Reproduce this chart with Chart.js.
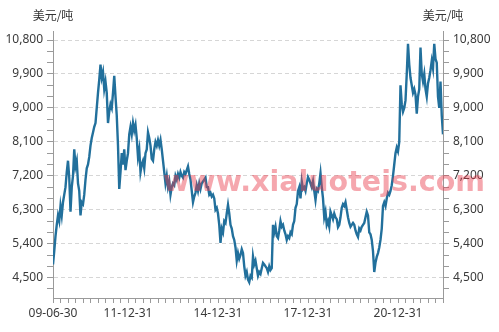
<!DOCTYPE html>
<html>
<head>
<meta charset="utf-8">
<script src="https://cdn.jsdelivr.net/npm/chart.js@4.4.1/dist/chart.umd.min.js"></script>
<style>
body{margin:0;background:#fff;}
</style>
</head>
<body>
<canvas id="copperChart" width="499" height="332"></canvas>
<script>
let unitLabel = '美元/吨';
let watermarkText = 'www.xialuotejs.com';

// x axis: one tick per quarter from 09-06-30, labels on a few of them
let xTickQuarters = [0, 10, 22, 34, 46];
let xTickLabels = ['09-06-30', '11-12-31', '14-12-31', '17-12-31', '20-12-31'];
let lastQuarter = 52;

// y axis
let yTickValues = [4500, 5400, 6300, 7200, 8100, 9000, 9900, 10800];
let yMinorStep = 300;
let yAxisMin = 3960;
let yAxisMax = 11040;

// price, about two readings a month, from 2009-06-30
let prices2009 = [4850, 5200, 5600, 5900, 6150, 6000, 6400, 6150, 6500, 6700, 6900, 7300, 7600];
let prices2010 = [7150, 6250, 6900, 7200, 7900, 7450, 7600, 7000, 6800, 6150, 6500, 6450, 6700, 7100, 7400, 7500, 7700, 8000, 8200, 8350, 8500, 8600, 9000, 9400];
let prices2011 = [9750, 10150, 9800, 9950, 9500, 9700, 9400, 8600, 8900, 9100, 9000, 9400, 9850, 9300, 8800, 8000, 6850, 7300, 7800, 7500, 7900, 7350, 7600, 7800];
let prices2012 = [8300, 8500, 8300, 8600, 8400, 8550, 8200, 7700, 7900, 7300, 7500, 7600, 7400, 7800, 7900, 8350, 8200, 8000, 7650, 7600, 7900, 8100, 8000, 8150];
let prices2013 = [8000, 8150, 7900, 7600, 7300, 7000, 7200, 6900, 7050, 6700, 6900, 7000, 6950, 7200, 7100, 7250, 7150, 7300, 7200, 7150, 7300, 7250, 7350, 7450];
let prices2014 = [7250, 7100, 6800, 6500, 6650, 6750, 6950, 6800, 7000, 6850, 7000, 7050, 7100, 7150, 6900, 6900, 6700, 6750, 6650, 6700, 6600, 6300, 6350, 6200];
let prices2015 = [5900, 5420, 5800, 5700, 6000, 5950, 6200, 6430, 6200, 5900, 5800, 5600, 5500, 5300, 4950, 5150, 5000, 5100, 5250, 5150, 4800, 4550, 4650, 4450];
let prices2016 = [4380, 4550, 4500, 5060, 4850, 4950, 4750, 4550, 4650, 4600, 4750, 4890, 4850, 4800, 4750, 4650, 4800, 4700, 4750, 5900, 5700, 5850, 5600, 5550];
let prices2017 = [5750, 6000, 5850, 5900, 5750, 5650, 5500, 5600, 5550, 5700, 5650, 5900, 6000, 6350, 6450, 6800, 6900, 6600, 7050, 6850, 6900, 6800, 7000, 7170];
let prices2018 = [7100, 7000, 6900, 7050, 6800, 6560, 6850, 6800, 7000, 7270, 6900, 6600, 6100, 6250, 5900, 6000, 5850, 6250, 6150, 6050, 6200, 6100, 6050, 5840];
let prices2019 = [5900, 6100, 6350, 6450, 6400, 6500, 6300, 6100, 5950, 5850, 5900, 5950, 5900, 5750, 5650, 5580, 5800, 5750, 5850, 5900, 5950, 6100, 6250, 6150];
let prices2020 = [5700, 5650, 5500, 5200, 4650, 4900, 5050, 5150, 5300, 5500, 5800, 6400, 6500, 6400, 6600, 6750, 6700, 6800, 6950, 7200, 7500, 7800, 7950, 7850];
let prices2021 = [8100, 9600, 9100, 8900, 9000, 9200, 9900, 10700, 10150, 9800, 9600, 9400, 9500, 9350, 8850, 9300, 9500, 10600, 9900, 9700, 9900, 9500, 9300, 9650];
let prices2022 = [9800, 10000, 10250, 10050, 10700, 10300, 10200, 9300, 9000, 9700, 8800, 8300];

let prices = [].concat(prices2009, prices2010, prices2011, prices2012, prices2013, prices2014, prices2015,
    prices2016, prices2017, prices2018, prices2019, prices2020, prices2021, prices2022);

let points = prices.map((v, i) => ({x : i / 6, y : v}));

let tickFont = {family : 'Noto Sans', size : 12};

function yAxis(position){
    return {
        type : 'linear',
        position : position,
        min : yAxisMin,
        max : yAxisMax,
        afterBuildTicks : (scale) => {
            let ticks = [];
            for(let v = 4200; v <= 10800; v += yMinorStep){
                ticks.push({value : v});
            }
            scale.ticks = ticks;
        },
        afterFit : (scale) => {
            scale.width = position == 'left' ? 53 : 56;
        },
        ticks : {
            autoSkip : false,
            padding : 4,
            color : '#3a3a3a',
            font : tickFont,
            callback : (v) => yTickValues.includes(v) ? v.toLocaleString('en-US') : ''
        },
        grid : {
            drawOnChartArea : position == 'left',
            color : (c) => (c.tick && yTickValues.includes(c.tick.value)) ? '#d6d6d6' : 'rgba(0,0,0,0)',
            tickColor : '#9a9a9a',
            tickLength : 6
        },
        border : {color : '#9a9a9a', dash : [4, 3]}
    };
}

let extraText = {
    id : 'extraText',
    afterDraw(chart){
        let ctx = chart.ctx;
        let area = chart.chartArea;
        ctx.save();
        ctx.font = '12px "Noto Sans CJK SC"';
        ctx.fillStyle = '#333';
        ctx.textAlign = 'center';
        ctx.textBaseline = 'middle';
        ctx.fillText(unitLabel, area.left, 15);
        ctx.fillText(unitLabel, area.right, 15);

        // watermark stretched to the width it has in the picture
        ctx.font = 'bold 29px "DejaVu Sans"';
        ctx.fillStyle = 'rgba(232, 60, 75, 0.45)';
        ctx.textAlign = 'left';
        ctx.textBaseline = 'alphabetic';
        let w = ctx.measureText(watermarkText).width;
        ctx.translate(163, 191);
        ctx.scale(322 / w, 1);
        ctx.fillText(watermarkText, 0, 0);
        ctx.restore();
    }
};

let config = {
    type : 'line',
    data : {
        datasets : [{
            data : points,
            borderColor : '#22709c',
            borderWidth : 2.4,
            pointRadius : 0,
            tension : 0,
            fill : false
        }]
    },
    options : {
        responsive : false,
        animation : false,
        layout : {padding : {top : 31, left : 0, right : 0, bottom : 0}},
        plugins : {
            legend : {display : false},
            tooltip : {enabled : false}
        },
        scales : {
            x : {
                type : 'linear',
                min : 0,
                max : lastQuarter,
                afterBuildTicks : (scale) => {
                    let ticks = [];
                    for(let q = 0; q <= lastQuarter; q++){
                        ticks.push({value : q});
                    }
                    scale.ticks = ticks;
                },
                afterFit : (scale) => {
                    scale.height = 34;
                },
                ticks : {
                    autoSkip : false,
                    maxRotation : 0,
                    padding : 3,
                    color : '#3a3a3a',
                    font : tickFont,
                    callback : (v) => {
                        let k = xTickQuarters.indexOf(v);
                        return k >= 0 ? xTickLabels[k] : '';
                    }
                },
                grid : {drawOnChartArea : false, tickColor : '#9a9a9a', tickLength : 5},
                border : {color : '#9a9a9a'}
            },
            y : yAxis('left'),
            y2 : yAxis('right')
        }
    },
    plugins : [extraText]
};

let chart = new Chart(document.getElementById('copperChart').getContext('2d'), config);
</script>
</body>
</html>
